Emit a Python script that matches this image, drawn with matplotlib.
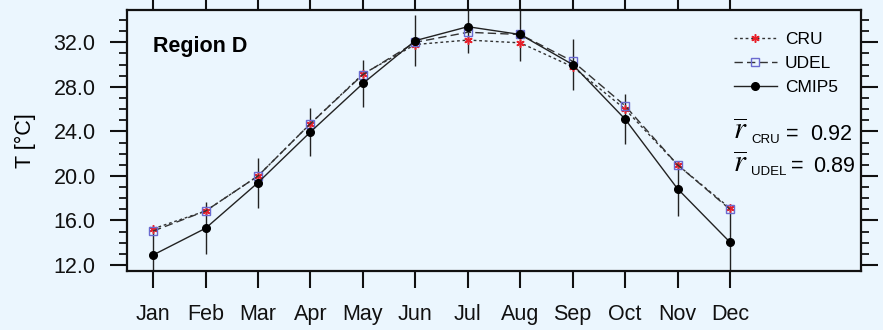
import matplotlib
matplotlib.use("Agg")
import matplotlib.pyplot as plt
from matplotlib.ticker import MultipleLocator, FixedLocator

months = ["Jan", "Feb", "Mar", "Apr", "May", "Jun", "Jul", "Aug", "Sep", "Oct", "Nov", "Dec"]
cru = [15.25, 16.85, 20.0, 24.7, 29.15, 31.8, 32.2, 31.95, 29.8, 26.0, 21.0, 17.1]
udel = [15.05, 16.85, 20.0, 24.7, 29.1, 32.0, 32.9, 32.7, 30.3, 26.3, 21.0, 17.0]
cmip5 = [12.9, 15.3, 19.4, 23.95, 28.3, 32.15, 33.4, 32.7, 30.0, 25.1, 18.85, 14.05]
cmip5_err = [2.3, 2.35, 2.25, 2.15, 2.1, 2.3, 2.4, 2.4, 2.3, 2.25, 2.45, 3.0]
yticks = [12.0, 16.0, 20.0, 24.0, 28.0, 32.0]
r_cru = 0.92
r_udel = 0.89

bg = "#EBF6FE"
plt.rcParams['font.family'] = ['Liberation Sans', 'DejaVu Sans']
plt.rcParams['mathtext.fontset'] = 'stix'

fig = plt.figure(figsize=(8.83, 3.3), dpi=100, facecolor=bg)
ax = fig.add_axes([0.1438, 0.1788, 0.9751 - 0.1438, 0.9697 - 0.1788])
ax.set_facecolor(bg)

x = list(range(1, len(months) + 1))

ax.errorbar(x, cmip5, yerr=cmip5_err, fmt='none', ecolor='#222222', elinewidth=1.0, capsize=0, zorder=2)
ax.plot(x, cru, linestyle=(0, (2, 2)), color='#333333', linewidth=1.0,
        marker=(6, 2, 0), markersize=6, markeredgecolor='#e8202a', markeredgewidth=1.1,
        label='CRU', zorder=3)
ax.plot(x, udel, linestyle=(0, (6, 3)), color='#333333', linewidth=1.0,
        marker='s', markersize=5.3, markerfacecolor='none', markeredgecolor='#6a6ad0',
        markeredgewidth=1.0, label='UDEL', zorder=3)
ax.plot(x, cmip5, linestyle='-', color='#222222', linewidth=1.0,
        marker='o', markersize=5.5, markerfacecolor='black', markeredgecolor='black',
        label='CMIP5', zorder=4)

ax.set_xlim(0.5, 14.5)
ax.set_ylim(11.46, 34.9)

ax.xaxis.set_major_locator(FixedLocator(x))
ax.set_xticklabels(months)
ax.yaxis.set_major_locator(FixedLocator(yticks))
ax.set_yticklabels([f"{v:.1f}" for v in yticks])
ax.yaxis.set_minor_locator(MultipleLocator(1.0))

ax.tick_params(axis='x', which='major', direction='out', length=12.5, width=1.5,
               top=True, bottom=True, labelsize=15.5, pad=11, colors='#111111')
ax.tick_params(axis='y', which='major', direction='out', length=12.5, width=1.5,
               left=True, right=True, labelsize=15.5, pad=10, colors='#111111')
ax.tick_params(axis='y', which='minor', direction='out', length=6, width=1.2,
               left=True, right=True)

for s in ax.spines.values():
    s.set_linewidth(1.6)
    s.set_color('#111111')

ax.set_ylabel("T [°C]", fontsize=15.5)
ax.yaxis.set_label_coords(-0.124, 0.5)

ax.text(0.035, 0.862, "Region D", transform=ax.transAxes, fontsize=15.5,
        fontweight='bold', va='center', ha='left')

leg = ax.legend(loc='upper left', bbox_to_anchor=(0.81, 0.962), frameon=False,
                fontsize=12.5, handlelength=2.5, handletextpad=0.45, labelspacing=0.5,
                borderaxespad=0.3, numpoints=1)

def rline(yc, sub, val, x_eq, x_val):
    ax.text(0.8256, yc + 0.008, r"$\overline{r}$", transform=ax.transAxes,
            fontsize=22, va='center', ha='left')
    ax.text(0.8500, yc - 0.022, sub, transform=ax.transAxes,
            fontsize=9.5, va='center', ha='left')
    ax.text(x_eq, yc, "=", transform=ax.transAxes, fontsize=15.5, va='center', ha='left')
    ax.text(x_val, yc, "%.2f" % val, transform=ax.transAxes, fontsize=15.5,
            va='center', ha='left')

rline(0.524, "CRU", r_cru, 0.8975, 0.9305)
rline(0.400, "UDEL", r_udel, 0.9043, 0.9346)

fig.savefig("out.png", dpi=100, facecolor=bg)
